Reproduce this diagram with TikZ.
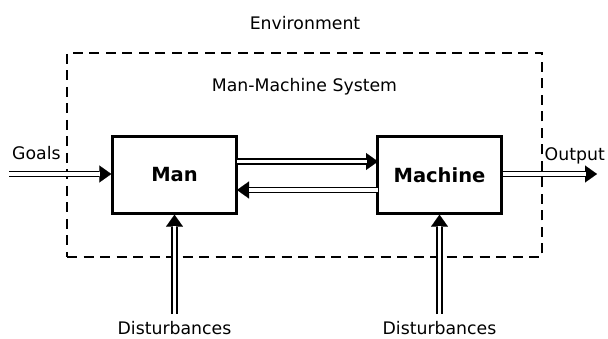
\documentclass[tikz,border=0pt]{standalone}
\usepackage{fontspec}
\setmainfont{DejaVu Sans}
\usetikzlibrary{arrows.meta}
\newcommand\dblarrow[2]{%
  \draw[line width=6.5pt,-{Triangle[length=12pt,width=17pt,line width=0.1pt]}] (#1) -- (#2);
  \draw[white,line width=3.3pt,shorten >=11.5pt] (#1) -- (#2);}
\begin{document}
\begin{tikzpicture}[x=1pt,y=-1pt,
  blk/.style={draw,line width=2.4pt,minimum width=124pt,minimum height=77pt,inner sep=0pt,font=\fontsize{19.5}{20}\selectfont\bfseries},
  lbl/.style={inner sep=0pt,font=\fontsize{17.3}{18}\selectfont},
  envbox/.style={draw,line width=1.8pt,dash pattern=on 10pt off 6.5pt}]
\useasboundingbox (0,0) rectangle (608,339);
\node[envbox,minimum width=475pt,minimum height=204pt,inner sep=0pt] (sys) at (304.5,155) {};
\node[lbl] (env) at (305,23) {Environment};
\node[lbl] (mms) at (304.5,87) {Man-Machine System};
\node[blk] (man) at (174.5,175) {Man};
\node[blk] (mach) at (439.5,175) {Machine};
\coordinate (gin) at (9,174);
\coordinate (oout) at (597,174);
\coordinate (a1) at (237,161.5);
\coordinate (b1) at (378,161.5);
\coordinate (a2) at (378,190);
\coordinate (b2) at (237,190);
\coordinate (d1) at (174.5,314);
\coordinate (d2) at (439.5,314);
\node[lbl,anchor=base west] (goals) at (12,160) {Goals};
\node[lbl,anchor=base east] (out) at (605,161) {Output};
\node[lbl,anchor=base] (dl1) at (174.5,334) {Disturbances};
\node[lbl,anchor=base] (dl2) at (439.5,334) {Disturbances};
\dblarrow{gin}{man.west |- gin}
\dblarrow{mach.east |- oout}{oout}
\dblarrow{a1}{b1}
\dblarrow{a2}{b2}
\dblarrow{d1}{man.south}
\dblarrow{d2}{mach.south}
\end{tikzpicture}
\end{document}
